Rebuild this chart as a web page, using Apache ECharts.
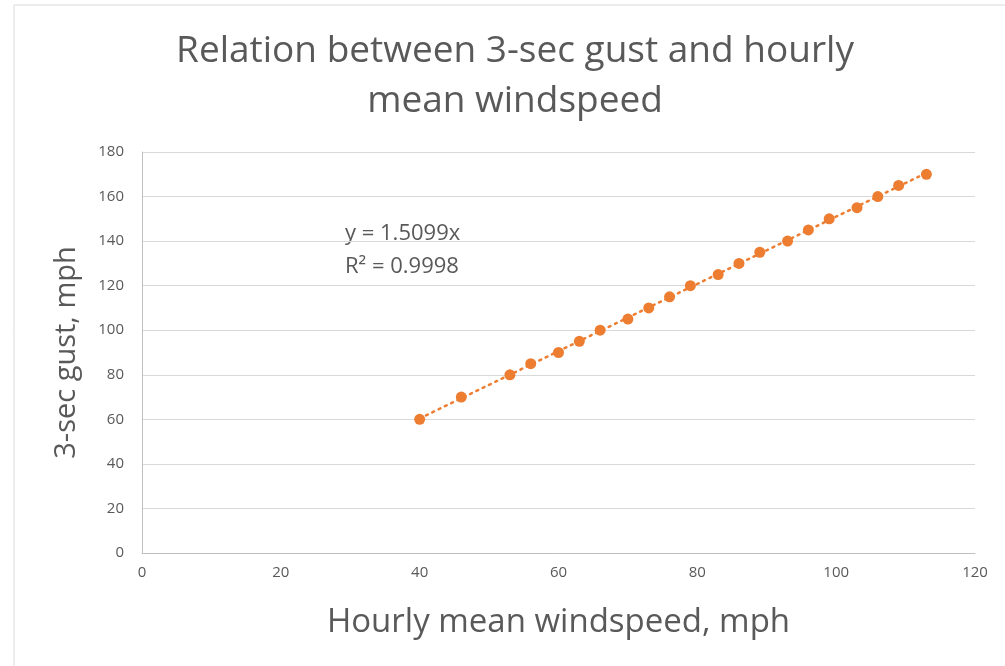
<!DOCTYPE html>
<html><head><meta charset="utf-8">
<script src="https://cdn.jsdelivr.net/npm/echarts@6/dist/echarts.min.js"></script>
<style>html,body{margin:0;padding:0;background:#fff}#c{width:1005px;height:666px}</style>
</head><body><div id="c"></div>
<script>
const hourlyMean = [40,46,53,56,60,63,66,70,73,76,79,83,86,89,93,96,99,103,106,109,113];
const gust = [60,70,80,85,90,95,100,105,110,115,120,125,130,135,140,145,150,155,160,165,170];
const slope = 1.5099;
const trendX = [40,113];
const chart = echarts.init(document.getElementById('c'));
const font = 'Open Sans, Noto Sans, sans-serif';
chart.setOption({
  animation:false,
  backgroundColor:'#fff',
  title:{text:'Relation between 3-sec gust and hourly\nmean windspeed',left:510,top:21,textAlign:'center',
    textStyle:{fontFamily:font,fontSize:37,fontWeight:'normal',color:'#595959',lineHeight:50}},
  grid:{left:142,right:30,top:152,bottom:113},
  xAxis:{type:'value',min:0,max:120,interval:20,name:'Hourly mean windspeed, mph',nameLocation:'middle',nameGap:53,
    nameTextStyle:{fontFamily:font,fontSize:33,color:'#595959'},
    axisLine:{show:true,lineStyle:{color:'#bfbfbf',width:1}},axisTick:{show:false},
    axisLabel:{fontFamily:font,fontSize:15,color:'#595959',margin:12},splitLine:{show:false}},
  yAxis:{type:'value',min:0,max:180,interval:20,name:'3-sec gust, mph',nameLocation:'middle',nameGap:61,
    nameTextStyle:{fontFamily:font,fontSize:29,color:'#595959'},
    axisLine:{show:true,lineStyle:{color:'#bfbfbf',width:1}},axisTick:{show:false},
    axisLabel:{fontFamily:font,fontSize:15,color:'#595959',margin:18},
    splitLine:{lineStyle:{color:'#d9d9d9',width:1}}},
  graphic:[
    {type:'line',shape:{x1:14,y1:5,x2:1005,y2:5},style:{stroke:'#d9d9d9',lineWidth:1}},
    {type:'line',shape:{x1:14,y1:5,x2:14,y2:666},style:{stroke:'#d9d9d9',lineWidth:1}},
    {type:'text',left:345,top:217,style:{text:'y = 1.5099x\nR² = 0.9998',font:'22px '+font,fill:'#595959',lineHeight:33}}
  ],
  series:[
    {type:'line',data:trendX.map(x=>[x,slope*x]),symbol:'none',silent:true,
      lineStyle:{color:'#ED7D31',width:2.5,type:[2,5],cap:'round'},z:1},
    {type:'scatter',data:hourlyMean.map((x,i)=>[x,gust[i]]),symbolSize:11,
      itemStyle:{color:'#ED7D31',opacity:1},z:2}
  ]
});
</script></body></html>
